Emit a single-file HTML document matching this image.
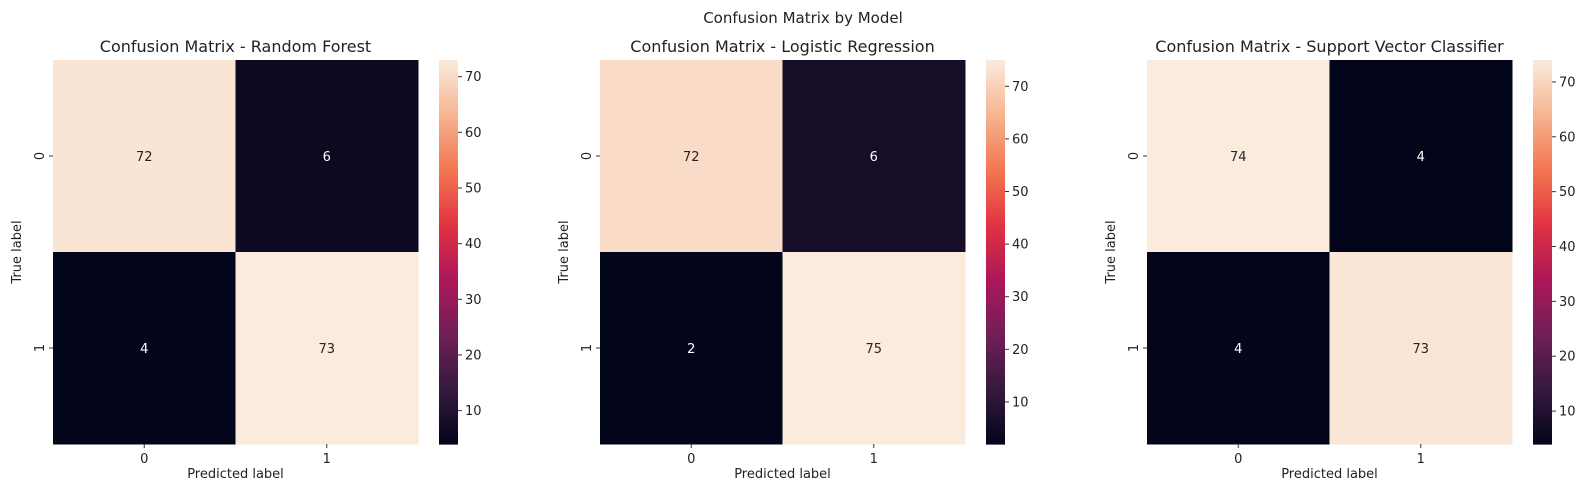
<!DOCTYPE html>
<html><head><meta charset="utf-8"><style>
body{margin:0;background:#fff;width:1591px;height:498px;overflow:hidden;font-family:"Liberation Sans","DejaVu Sans",sans-serif}
svg text{font-family:"DejaVu Sans","Liberation Sans",sans-serif;fill:#222}
</style></head><body>
<svg id="chart" width="1591" height="498" xmlns="http://www.w3.org/2000/svg">
<text x="803" y="23" font-size="15" text-anchor="middle">Confusion Matrix by Model</text>
</svg>
<script>
const models=["Random Forest","Logistic Regression","Support Vector Classifier"];
const rfValues=[[72,6],[4,73]];
const lrValues=[[72,6],[2,75]];
const svcValues=[[74,4],[4,73]];
const classLabels=["0","1"];
const cbarTicks=[10,20,30,40,50,60,70];
const allValues=[rfValues,lrValues,svcValues];
const stops=[[0,"#03051a"],[0.143,"#35193e"],[0.286,"#701f57"],[0.429,"#ad1759"],[0.571,"#e13342"],[0.714,"#f37651"],[0.857,"#f6b48f"],[1,"#faebdd"]];
function hex(h){return [1,3,5].map(i=>parseInt(h.substr(i,2),16));}
function rocket(t){t=Math.max(0,Math.min(1,t));for(let i=1;i<stops.length;i++){if(t<=stops[i][0]){const a=hex(stops[i-1][1]),b=hex(stops[i][1]);const f=(t-stops[i-1][0])/(stops[i][0]-stops[i-1][0]);return `rgb(${a.map((v,k)=>Math.round(v+(b[k]-v)*f)).join(",")})`;}}return stops[7][1];}
const svg=document.getElementById('chart');const NS="http://www.w3.org/2000/svg";
function el(tag,attrs,parent){const e=document.createElementNS(NS,tag);for(const k in attrs)e.setAttribute(k,attrs[k]);(parent||svg).appendChild(e);return e;}
const topY=60,H=384,W=365;
allValues.forEach((vals,p)=>{
  const x0=53+p*547;
  const flat=vals.flat();const mn=Math.min(...flat),mx=Math.max(...flat);
  const g=el('g',{});
  
  
  const t=el('text',{x:x0+W/2,y:52,'font-size':16,'text-anchor':'middle'},g);t.textContent='Confusion Matrix - '+models[p];
  
  
  const cw=W/classLabels.length,ch=H/classLabels.length;
  vals.forEach((row,r)=>row.forEach((v,c)=>{
    const tt=(v-mn)/(mx-mn);
    const rc=el('rect',{x:x0+c*cw,y:topY+r*ch,width:cw+0.5,height:ch+0.5,fill:rocket(tt)},g);
    
    
    const tx=el('text',{x:x0+c*cw+cw/2,y:topY+r*ch+ch/2+5,'font-size':13,'text-anchor':'middle'},g);
    tx.style.fill=tt>0.5?'#262626':'#ffffff';tx.textContent=v;
    
    
  }));
  classLabels.forEach((l,i)=>{
    el('line',{x1:x0+i*cw+cw/2,x2:x0+i*cw+cw/2,y1:topY+H,y2:topY+H+4,stroke:'#333'},g);
    const xt=el('text',{x:x0+i*cw+cw/2,y:topY+H+19,'font-size':13,'text-anchor':'middle'},g);xt.textContent=l;
    
    
    const cy=topY+i*ch+ch/2;
    el('line',{x1:x0-4,x2:x0,y1:cy,y2:cy,stroke:'#333'},g);
    const yt=el('text',{x:x0-9,y:cy,'font-size':13,'text-anchor':'middle',transform:`rotate(-90 ${x0-9} ${cy})`},g);yt.textContent=l;
    
    
  });
  const xl=el('text',{x:x0+W/2,y:478,'font-size':13,'text-anchor':'middle'},g);xl.textContent='Predicted label';
  
  
  const yx=x0-32,yy=topY+H/2;
  const yl=el('text',{x:yx,y:yy,'font-size':13,'text-anchor':'middle',transform:`rotate(-90 ${yx} ${yy})`},g);yl.textContent='True label';
  
  
  const cx=x0+386,cwid=19,N=96;
  for(let i=0;i<N;i++){el('rect',{x:cx,y:topY+H-(i+1)*H/N,width:cwid,height:H/N+0.6,fill:rocket((i+0.5)/N)},g);}
  cbarTicks.forEach(v=>{if(v<mn||v>mx)return;const y=topY+H-(v-mn)/(mx-mn)*H;
    el('line',{x1:cx+cwid,x2:cx+cwid+4,y1:y,y2:y,stroke:'#333'},g);
    const ct=el('text',{x:cx+cwid+7,y:y+4.5,'font-size':13},g);ct.textContent=v;
    
    });
});
</script>
</body></html>
